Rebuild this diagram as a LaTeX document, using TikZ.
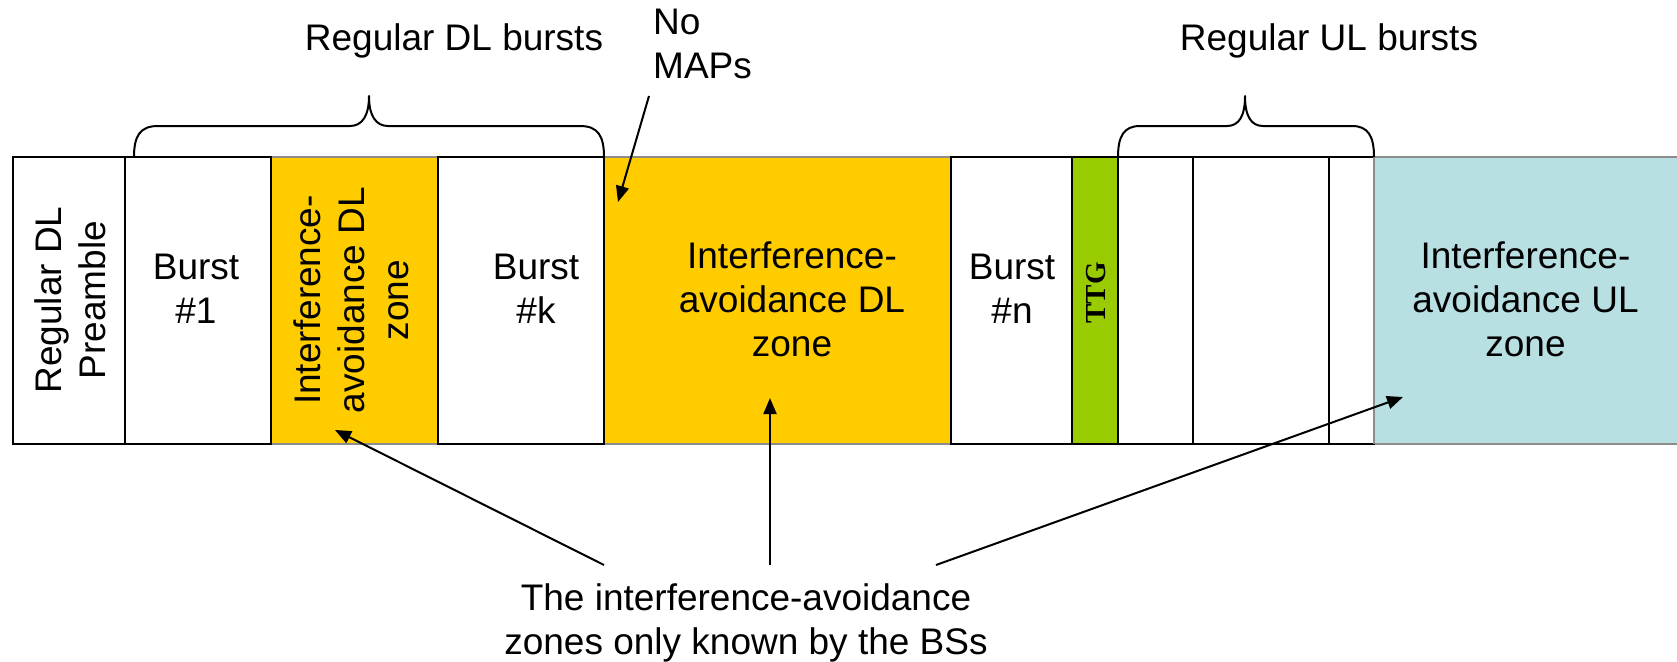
\documentclass[tikz,border=0pt]{standalone}
\usepackage{fontspec}
\setmainfont{Liberation Sans}
\newfontfamily\ttgfont{Liberation Serif}
\usetikzlibrary{arrows.meta}
\definecolor{iayellow}{HTML}{FFCC00}
\definecolor{ttggreen}{HTML}{99CC00}
\definecolor{iacyan}{HTML}{B8DFE2}
\definecolor{edgegray}{HTML}{8C8C8C}
\begin{document}
\begin{tikzpicture}[x=1pt,y=-1pt,
  frame/.style={draw=black, line width=2pt, fill=white, minimum height=287pt, inner sep=0pt, outer sep=0pt},
  zone/.style={draw=edgegray, line width=2pt, minimum height=287pt, inner sep=0pt, outer sep=0pt},
  lbl/.style={font=\fontsize{37}{44}\selectfont, align=center, inner sep=0pt},
  ptr/.style={-{Triangle[length=16pt,width=13pt]}, line width=2pt},
  brace/.style={line width=2pt, line join=round}]
\useasboundingbox (0,0) rectangle (1677,661);
% coloured zones
\node[zone, fill=iayellow, minimum width=167pt] (zdl1) at (354.5,300.5) {};
\node[zone, fill=iayellow, minimum width=347pt] (zdl2) at (777.5,300.5) {};
\node[zone, fill=iacyan, minimum width=305pt] (zul) at (1526.5,300.5) {};
% white frames
\node[frame, minimum width=112pt] (pre) at (69,300.5) {};
\node[frame, minimum width=146pt] (b1) at (198,300.5) {};
\node[frame, minimum width=166pt] (bk) at (521,300.5) {};
\node[frame, minimum width=121pt] (bn) at (1011.5,300.5) {};
\node[frame, fill=ttggreen, minimum width=46pt] (ttg) at (1095,300.5) {};
\node[frame, minimum width=75pt] (u1) at (1155.5,300.5) {};
\node[frame, minimum width=136pt] (u2) at (1261,300.5) {};
\node[frame, minimum width=45pt] (u3) at (1351.5,300.5) {};
\draw[draw=edgegray, line width=2pt] (zul.north west) -- (zul.south west);
% texts in boxes
\node[lbl, rotate=90] (tpre) at (70,300) {Regular DL\\Preamble};
\node[lbl] (tb1) at (196,289) {Burst\\\#1};
\node[lbl, rotate=90] (tzdl1) at (351,300) {Interference-\\avoidance DL\\zone};
\node[lbl] (tbk) at (536,289) {Burst\\\#k};
\node[lbl] (tzdl2) at (792,299) {Interference-\\avoidance DL\\zone};
\node[lbl] (tbn) at (1012,289) {Burst\\\#n};
\node[rotate=90, inner sep=0pt, font=\ttgfont\bfseries\fontsize{29}{32}\selectfont] (tttg) at (1096,293) {TTG};
\node[lbl] (tzul) at (1525.5,299) {Interference-\\avoidance UL\\zone};
% labels above
\node[lbl, anchor=base] (ldl) at (454,51) {Regular DL bursts};
\node[lbl, anchor=base] (lul) at (1329,51) {Regular UL bursts};
\node[lbl, align=left, anchor=north west] (nomaps) at (653,9) {No\\MAPs};
\node[lbl] (note) at (746,623) {The interference-avoidance\\zones only known by the BSs};
% braces
\draw[brace] (134,157) .. controls (134,136) and (140,126) .. (158,126) -- (350,126)
  .. controls (362,126) and (369,116) .. (369,96)
  .. controls (369,116) and (376,126) .. (388,126) -- (580,126)
  .. controls (598,126) and (604,136) .. (604,157);
\draw[brace] (1118,157) .. controls (1118,136) and (1124,126) .. (1140,126) -- (1227,126)
  .. controls (1239,126) and (1245,116) .. (1245,96)
  .. controls (1245,116) and (1251,126) .. (1263,126) -- (1352,126)
  .. controls (1368,126) and (1374,136) .. (1374,157);
% arrows
\coordinate (s1) at (604,565);
\coordinate (s2) at (770,565);
\coordinate (s3) at (936,565);
\coordinate (e1) at (335,430);
\coordinate (e2) at (770,398);
\coordinate (e3) at (1403,397);
\coordinate (m0) at (649,96);
\coordinate (m1) at (618,202);
\draw[ptr] (s1) -- (e1);
\draw[ptr] (s2) -- (e2);
\draw[ptr] (s3) -- (e3);
\draw[ptr] (m0) -- (m1);
\end{tikzpicture}
\end{document}
